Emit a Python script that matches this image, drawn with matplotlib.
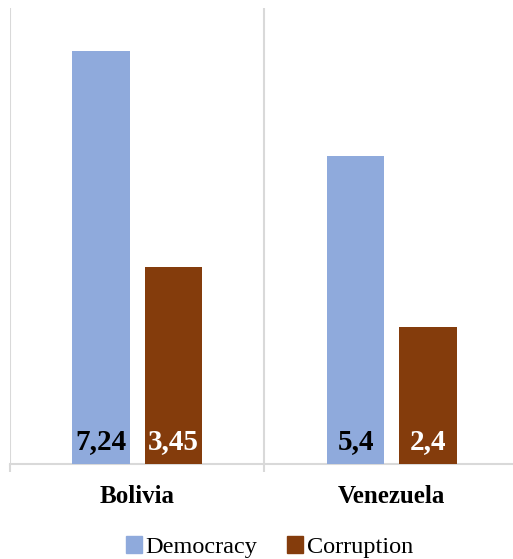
import numpy as np
import matplotlib.pyplot as plt
from matplotlib.patches import Patch

plt.rcParams['font.family'] = ['Liberation Serif', 'DejaVu Serif']

countries = ['Bolivia', 'Venezuela']
democracy = [7.24, 5.4]
corruption = [3.45, 2.4]
democracy_labels = ['7,24', '5,4']
corruption_labels = ['3,45', '2,4']

blue = '#8FAADC'
brown = '#843C0C'
grid = '#D9D9D9'

W, H = 513, 559
fig = plt.figure(figsize=(W / 100, H / 100), dpi=100)
# axes runs a little past the right edge of the figure, like the original
ax = fig.add_axes([10 / W, 95 / H, 509 / W, 456 / H])

x = np.arange(len(countries))
bw = 0.225
off = 0.142
b1 = ax.bar(x - off, democracy, bw, color=blue, zorder=3)
b2 = ax.bar(x + off, corruption, bw, color=brown, zorder=3)

for rect, lab in zip(b1, democracy_labels):
    ax.annotate(lab, (rect.get_x() + rect.get_width() / 2, 0), xytext=(0, 16),
                textcoords='offset points', ha='center', va='center',
                fontsize=21, fontweight='bold', color='black', zorder=4)
for rect, lab in zip(b2, corruption_labels):
    ax.annotate(lab, (rect.get_x() + rect.get_width() / 2, 0), xytext=(0, 16),
                textcoords='offset points', ha='center', va='center',
                fontsize=21, fontweight='bold', color='white', zorder=4)

ax.set_xlim(-0.5, 1.5)
ax.set_ylim(0, 8)
ax.set_yticks([])
ax.set_xticks(x)
ax.set_xticklabels(countries, fontsize=18, fontweight='bold')
ax.tick_params(axis='x', which='major', length=0, pad=15)
ax.set_xticks([-0.5, 0.5, 1.5], minor=True)
ax.tick_params(axis='x', which='minor', length=6, width=1.5, color=grid, direction='out')
ax.grid(axis='x', which='minor', color=grid, linewidth=1.5, zorder=0)

for s in ['top', 'right', 'left']:
    ax.spines[s].set_visible(False)
ax.spines['bottom'].set_color(grid)
ax.spines['bottom'].set_linewidth(1.5)

handles = [Patch(color=blue, label='Democracy'), Patch(color=brown, label='Corruption')]
fig.legend(handles=handles, loc='center', bbox_to_anchor=(0.525, 0.021), ncol=2,
           frameon=False, fontsize=17.5, handlelength=0.68, handleheight=0.68,
           handletextpad=0.15, columnspacing=1.2, borderaxespad=0)

fig.savefig('out.png', dpi=100)
